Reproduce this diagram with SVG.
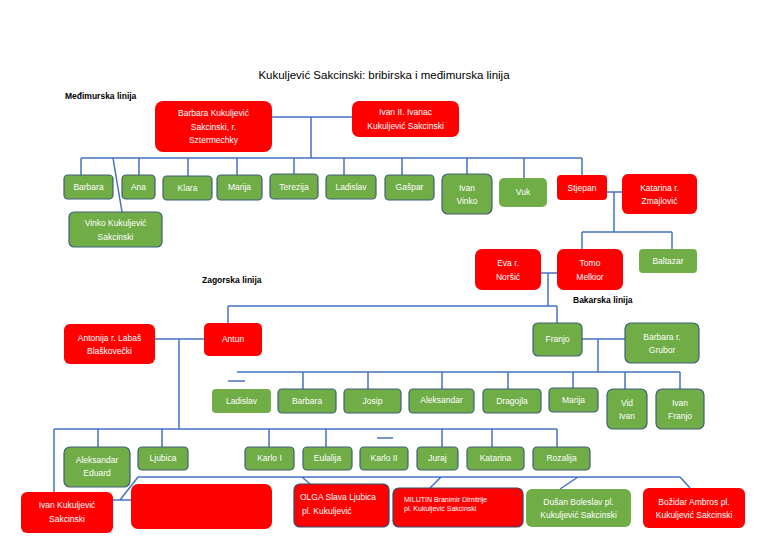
<svg xmlns="http://www.w3.org/2000/svg" width="768" height="543" viewBox="0 0 768 543">
<style>
.r{fill:#FF0000;}
.rb{fill:#FF0000;stroke:#2F4A6B;stroke-width:1.2;}
.g{fill:#70AD47;stroke:#3E5F78;stroke-width:1.2;}
.gn{fill:#70AD47;}
.t{font-family:"Liberation Sans",Arial,sans-serif;font-size:8.5px;fill:#fff;text-anchor:middle;}
.tl{font-family:"Liberation Sans",Arial,sans-serif;font-size:8.5px;fill:#fff;}
.lab{font-family:"Liberation Sans",Arial,sans-serif;font-size:8.5px;font-weight:bold;fill:#000;}
.title{font-family:"Liberation Sans",Arial,sans-serif;font-size:11.5px;fill:#000;text-anchor:middle;}
.c{fill:none;stroke:#4472C4;stroke-width:1.5;}
</style>
<rect width="768" height="543" fill="#fff"/>
<text class="title" x="384" y="79">Kukuljević Sakcinski: bribirska i međimurska linija</text>
<text class="lab" x="65" y="99">Međimurska linija</text>
<text class="lab" x="202" y="283">Zagorska linija</text>
<text class="lab" x="573" y="303">Bakarska linija</text>

<g id="connectors" class="c">
<path d="M272 117H352M311 117V158M81 158H582"/>
<path d="M81 158V175M139 158V175M188 158V176M237 158V175M294 158V174M344 158V175M402 158V175M467 158V174M524 158V178M582 158V175"/>
<path d="M113 158L122 212"/>
<path d="M607 192H622M614 192V232M582 232H672M582 232V249M672 232V249"/>
<path d="M541 273H557M548 273V306M228 306H557M228 306V323M557 306V323"/>
<path d="M155 339H204M179 339V429M54 429H557M54 429V492"/>
<path d="M98 429V447M162 429V447M269 429V447M326 429V447M442 429V447M492 429V447M557 429V447"/>
<path d="M377 438H393"/>
<path d="M582 339H625M598 339V372M237 372H680"/>
<path d="M303 372V389M368 372V389M442 372V389M508 372V389M573 372V388M625 372V389M680 372V389"/>
<path d="M228 381H245"/>
<path d="M113 500H131M120 500L138 477H680M302 477L310 484M441 477L430 488M578 477L560 489M680 477L690 488"/>
</g>

<g id="n-barbara-sz"><rect class="r" x="155" y="101" width="117" height="51" rx="8"/><text class="t" x="213.5" y="116">Barbara Kukuljević<tspan x="213.5" dy="13.5">Sakcinski, r.</tspan><tspan x="213.5" dy="13.5">Sztermechky</tspan></text></g>
<g id="n-ivan-ii"><rect class="r" x="352" y="101" width="107" height="36" rx="7"/><text class="t" x="405.5" y="115">Ivan II. Ivanac<tspan x="405.5" dy="14">Kukuljević Sakcinski</tspan></text></g>

<g id="n-barbara"><rect class="g" x="64" y="175" width="49" height="24" rx="4"/><text class="t" x="88.5" y="190">Barbara</text></g>
<g id="n-ana"><rect class="g" x="122" y="175" width="33" height="24" rx="4"/><text class="t" x="138.5" y="190">Ana</text></g>
<g id="n-klara"><rect class="g" x="163" y="176" width="49" height="24" rx="4"/><text class="t" x="187.5" y="191">Klara</text></g>
<g id="n-marija"><rect class="g" x="217" y="175" width="45" height="25" rx="4"/><text class="t" x="239.5" y="190">Marija</text></g>
<g id="n-terezija"><rect class="g" x="270" y="174" width="48" height="25" rx="4"/><text class="t" x="294" y="190">Terezija</text></g>
<g id="n-ladislav"><rect class="g" x="326" y="175" width="50" height="24" rx="4"/><text class="t" x="351" y="190">Ladislav</text></g>
<g id="n-gaspar"><rect class="g" x="385" y="175" width="49" height="25" rx="4"/><text class="t" x="409.5" y="190">Gašpar</text></g>
<g id="n-ivan-vinko"><rect class="g" x="442" y="174" width="50" height="40" rx="6"/><text class="t" x="467" y="191">Ivan<tspan x="467" dy="13">Vinko</tspan></text></g>
<g id="n-vuk"><rect class="gn" x="499" y="178" width="48" height="29" rx="5"/><text class="t" x="523" y="195">Vuk</text></g>
<g id="n-stjepan"><rect class="r" x="557" y="175" width="50" height="25" rx="4"/><text class="t" x="582" y="191">Stjepan</text></g>
<g id="n-katarina-z"><rect class="r" x="622" y="174" width="75" height="40" rx="6"/><text class="t" x="659.5" y="191">Katarina r.<tspan x="659.5" dy="13">Zmajlović</tspan></text></g>
<g id="n-vinko"><rect class="g" x="69" y="212" width="93" height="35" rx="5"/><text class="t" x="115.5" y="226">Vinko Kukuljević<tspan x="115.5" dy="14">Sakcinski</tspan></text></g>

<g id="n-eva"><rect class="r" x="475" y="249" width="66" height="41" rx="7"/><text class="t" x="508" y="266">Eva r.<tspan x="508" dy="14">Noršić</tspan></text></g>
<g id="n-tomo"><rect class="r" x="557" y="249" width="66" height="41" rx="7"/><text class="t" x="590" y="266">Tomo<tspan x="590" dy="14">Melkior</tspan></text></g>
<g id="n-baltazar"><rect class="gn" x="639" y="249" width="58" height="24" rx="4"/><text class="t" x="668" y="264">Baltazar</text></g>

<g id="n-antonija"><rect class="r" x="64" y="324" width="91" height="40" rx="6"/><text class="t" x="109.5" y="341">Antonija r. Labaš<tspan x="109.5" dy="13">Blaškovečki</tspan></text></g>
<g id="n-antun"><rect class="r" x="204" y="323" width="58" height="33" rx="5"/><text class="t" x="233" y="342">Antun</text></g>
<g id="n-franjo"><rect class="g" x="533" y="323" width="49" height="33" rx="5"/><text class="t" x="557.5" y="342">Franjo</text></g>
<g id="n-barbara-g"><rect class="g" x="625" y="323" width="74" height="40" rx="6"/><text class="t" x="662" y="340">Barbara r.<tspan x="662" dy="13">Grubor</tspan></text></g>

<g id="n-ladislav2"><rect class="gn" x="212" y="389" width="59" height="24" rx="4"/><text class="t" x="241.5" y="404">Ladislav</text></g>
<g id="n-barbara2"><rect class="g" x="278" y="389" width="58" height="24" rx="4"/><text class="t" x="307" y="404">Barbara</text></g>
<g id="n-josip"><rect class="g" x="344" y="389" width="57" height="24" rx="4"/><text class="t" x="372.5" y="404">Josip</text></g>
<g id="n-aleksandar"><rect class="g" x="409" y="389" width="65" height="24" rx="4"/><text class="t" x="441.5" y="403">Aleksandar</text></g>
<g id="n-dragojla"><rect class="g" x="483" y="389" width="58" height="24" rx="4"/><text class="t" x="512" y="404">Dragojla</text></g>
<g id="n-marija2"><rect class="g" x="549" y="388" width="49" height="24" rx="4"/><text class="t" x="573.5" y="403">Marija</text></g>
<g id="n-vid-ivan"><rect class="g" x="607" y="389" width="40" height="40" rx="6"/><text class="t" x="627" y="406">Vid<tspan x="627" dy="13">Ivan</tspan></text></g>
<g id="n-ivan-franjo"><rect class="g" x="656" y="389" width="48" height="40" rx="6"/><text class="t" x="680" y="406">Ivan<tspan x="680" dy="13">Franjo</tspan></text></g>

<g id="n-aleksandar-eduard"><rect class="g" x="64" y="447" width="66" height="40" rx="6"/><text class="t" x="97" y="463">Aleksandar<tspan x="97" dy="13">Eduard</tspan></text></g>
<g id="n-ljubica"><rect class="g" x="138" y="447" width="50" height="23" rx="4"/><text class="t" x="163" y="461">Ljubica</text></g>
<g id="n-karlo1"><rect class="g" x="245" y="447" width="49" height="23" rx="4"/><text class="t" x="269.5" y="461">Karlo I</text></g>
<g id="n-eulalija"><rect class="g" x="303" y="447" width="49" height="23" rx="4"/><text class="t" x="327.5" y="461">Eulalija</text></g>
<g id="n-karlo2"><rect class="g" x="360" y="447" width="48" height="23" rx="4"/><text class="t" x="384" y="461">Karlo II</text></g>
<g id="n-juraj"><rect class="g" x="417" y="447" width="41" height="23" rx="4"/><text class="t" x="437.5" y="461">Juraj</text></g>
<g id="n-katarina"><rect class="g" x="467" y="447" width="57" height="23" rx="4"/><text class="t" x="495.5" y="461">Katarina</text></g>
<g id="n-rozalija"><rect class="g" x="533" y="447" width="57" height="23" rx="4"/><text class="t" x="561.5" y="461">Rozalija</text></g>

<g id="n-ivan-k"><rect class="r" x="21" y="492" width="92" height="41" rx="6"/><text class="t" x="67" y="508">Ivan Kukuljević<tspan x="67" dy="14">Sakcinski</tspan></text></g>
<g id="n-blank"><rect class="r" x="131" y="484" width="141" height="45" rx="7"/></g>
<g id="n-olga"><rect class="rb" x="294" y="484" width="95" height="43" rx="6"/><text class="tl" x="300" y="500">OLGA Slava Ljubica<tspan x="302" dy="14">pl. Kukuljević</tspan></text></g>
<g id="n-milutin"><rect class="rb" x="393" y="488" width="130" height="39" rx="6"/><text class="tl" x="404" y="502" style="font-size:7px">MILUTIN Branimir Dimitrije<tspan x="404" dy="9">pl. Kukuljević Sakcinski</tspan></text></g>
<g id="n-dusan"><rect class="gn" x="526" y="489" width="105" height="38" rx="6"/><text class="t" x="578.5" y="505">Dušan Boleslav pl.<tspan x="578.5" dy="12.5">Kukuljević Sakcinski</tspan></text></g>
<g id="n-bozidar"><rect class="r" x="643" y="488" width="102" height="40" rx="6"/><text class="t" x="694" y="505">Božidar Ambros pl.<tspan x="694" dy="12.5">Kukuljević Sakcinski</tspan></text></g>
</svg>
